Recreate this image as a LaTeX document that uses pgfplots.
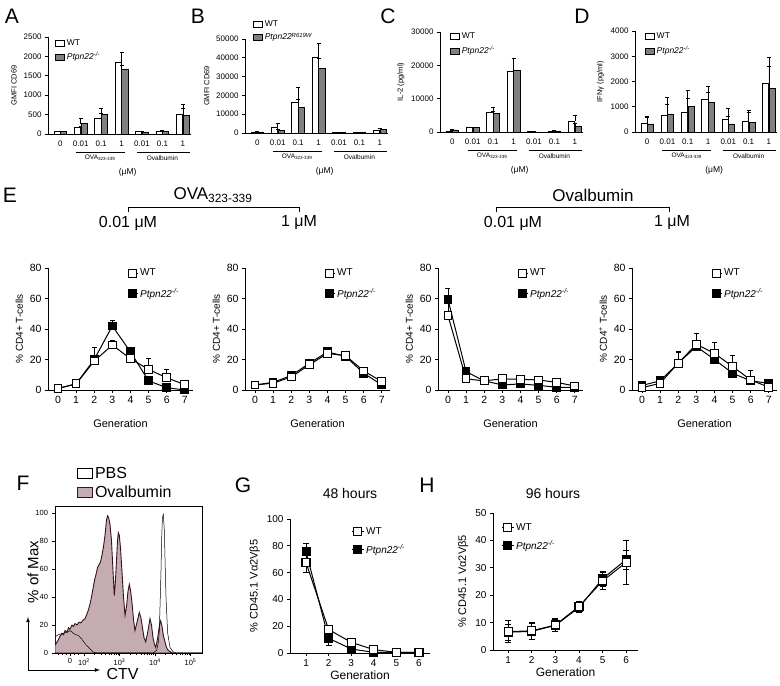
\documentclass[border=0pt]{standalone}
\usepackage{fontspec}
\setmainfont{Liberation Sans}
\usepackage{pgfplots}
\pgfplotsset{compat=1.18}
\definecolor{mutgray}{RGB}{128,128,128}
\definecolor{ovafill}{RGB}{196,172,177}
\definecolor{ovadraw}{RGB}{55,18,28}
\newcommand{\fs}[1]{\fontsize{#1}{#1}\selectfont}
\newcommand{\ptpn}{\textit{Ptpn22}\textsuperscript{\textit{-/-}}}
\newcommand{\grouplabels}{%
  \draw[line width=0.6pt] ([yshift=-18pt]axis cs:0.75,0) -- ([yshift=-18pt]axis cs:3.15,0);
  \draw[line width=0.6pt] ([yshift=-18pt]axis cs:3.75,0) -- ([yshift=-18pt]axis cs:6.35,0);
  \node[font=\fs{6.5}] at ([yshift=-24pt]axis cs:1.95,0) {OVA\textsubscript{323-339}};
  \node[font=\fs{6.5}] at ([yshift=-24pt]axis cs:5.0,0) {Ovalbumin};
  \node[font=\fs{8.5}] at ([yshift=-38pt]axis cs:3.3,0) {(μM)};
}
\pgfplotsset{
  prism/.style={scale only axis, anchor=south west, clip=false,
    axis x line*=bottom, axis y line*=left, axis line style={-, line width=0.7pt},
    /pgf/number format/assume math mode=true, /pgf/number format/1000 sep={},
    scaled y ticks=false, tick align=outside, major tick length=3pt,
    tick style={line width=0.7pt, black}, legend cell align=left},
  barax/.style={prism, width=143pt, xmin=-0.6, xmax=6.4, ymin=0,
    xtick={0,...,6}, xticklabels={0,0.01,0.1,1,0.01,0.1,1}, x tick style={draw=none},
    tick label style={font=\fs{8}},
    ylabel style={font=\fs{7.5}},
    legend style={draw=none, fill=none, inner sep=0pt, font=\fs{8.5}, anchor=north west, cells={anchor=west}},
    legend image code/.code={\draw[#1, line width=0.6pt] (0pt,-3pt) rectangle (9pt,3pt);}},
  wtbar/.style={ybar, bar width=0.3, bar shift=-0.16, fill=white, draw=black, line width=0.6pt,
    error bars/.cd, y dir=plus, y explicit, error bar style={line width=0.6pt},
    error mark options={rotate=90, mark size=2pt, line width=0.6pt}},
  mutbar/.style={ybar, bar width=0.3, bar shift=0.16, fill=mutgray, draw=black, line width=0.6pt,
    error bars/.cd, y dir=plus, y explicit, error bar style={line width=0.6pt},
    error mark options={rotate=90, mark size=2pt, line width=0.6pt}},
  eax/.style={prism, width=145pt, height=122pt, xmin=-0.55, xmax=7.45, ymin=0, ymax=80,
    xtick={0,...,7}, ytick={0,20,...,80}, tick label style={font=\fs{10.5}},
    xlabel={Generation}, xlabel style={font=\fs{11}, yshift=-9pt},
    ylabel style={font=\fs{10}},
    legend style={at={(0.545,1.01)}, anchor=north west, draw=none, fill=none, inner sep=0pt,
      row sep=7pt, font=\fs{10}, cells={anchor=west}},
    legend image code/.code={\draw[mark repeat=2,mark phase=2,#1] plot coordinates {(0pt,0pt) (5pt,0pt) (10pt,0pt)};},
    reverse legend},
  wtline/.style={black, line width=1pt, mark=square*, mark size=3.9pt, mark options={fill=white, solid},
    error bars/.cd, y dir=plus, y explicit, error bar style={line width=0.8pt},
    error mark options={rotate=90, mark size=2.5pt, line width=0.8pt}},
  mutline/.style={black, line width=1pt, mark=square*, mark size=3.9pt, mark options={fill=black, solid},
    error bars/.cd, y dir=plus, y explicit, error bar style={line width=0.8pt},
    error mark options={rotate=90, mark size=2.5pt, line width=0.8pt}},
  ghax/.style={prism, xtick={1,...,6}, tick label style={font=\fs{10}},
    xlabel={Generation}, xlabel style={font=\fs{12}, yshift=3pt},
    ylabel style={font=\fs{11}},
    legend style={anchor=north west, draw=none, fill=none, inner sep=0pt,
      row sep=5pt, font=\fs{10}, cells={anchor=west}},
    legend image code/.code={\draw[mark repeat=2,mark phase=2,#1] plot coordinates {(0pt,0pt) (6pt,0pt) (12pt,0pt)};},
    reverse legend},
  ghwt/.style={black, line width=1pt, mark=square*, mark size=4pt, mark options={fill=white, solid, line width=1.2pt},
    error bars/.cd, y dir=both, y explicit, error bar style={line width=0.9pt},
    error mark options={rotate=90, mark size=3pt, line width=0.9pt}},
  ghmut/.style={black, line width=1pt, mark=square*, mark size=4pt, mark options={fill=black, solid},
    error bars/.cd, y dir=both, y explicit, error bar style={line width=0.9pt},
    error mark options={rotate=90, mark size=3pt, line width=0.9pt}},
}
\begin{document}
\begin{tikzpicture}
\useasboundingbox (0pt,0pt) rectangle (780pt,686pt);

% ---------- panel letters ----------
\foreach \t/\x/\y in {A/12/670, B/198/670, C/388/670, D/582/670, E/10/491, F/23/203, G/243/201, H/427/201}
  \node[font=\fs{21}] at (\x pt,\y pt) {\t};

% ---------- A ----------
\begin{axis}[barax, at={(48pt,552pt)}, height=97pt, ymax=2500, ytick={0,500,...,2500},
  ylabel={GMFI CD69}, legend style={at={(0.05,1.0)}, row sep=2pt}]
\addplot[wtbar] coordinates {(0,60) +- (0,10) (1,160) +- (0,45) (2,395) +- (0,130) (3,1850) +- (0,260) (4,60) +- (0,10) (5,80) +- (0,10) (6,500) +- (0,175)};
\addplot[mutbar] coordinates {(0,60) +- (0,10) (1,270) +- (0,145) (2,505) +- (0,150) (3,1660) +- (0,120) (4,55) +- (0,10) (5,70) +- (0,10) (6,480) +- (0,290)};
\legend{WT, \ptpn}
\grouplabels
\end{axis}

% ---------- B ----------
\begin{axis}[barax, at={(245pt,553pt)}, height=94pt, ymax=50000, ytick={0,10000,...,50000},
  ylabel={GMFI CD69}, legend style={at={(0.056,1.22)}, row sep=1pt}]
\addplot[wtbar] coordinates {(0,200) +- (0,100) (1,3000) +- (0,2300) (2,16400) +- (0,7800) (3,40000) +- (0,7600) (4,500) +- (0,100) (5,300) +- (0,100) (6,1200) +- (0,400)};
\addplot[mutbar] coordinates {(0,600) +- (0,200) (1,1400) +- (0,700) (2,13800) +- (0,3900) (3,34500) +- (0,5300) (4,400) +- (0,100) (5,300) +- (0,100) (6,2000) +- (0,700)};
\legend{WT, \textit{Ptpn22}\textsuperscript{\textit{R619W}}}
\grouplabels
\end{axis}

% ---------- C ----------
\begin{axis}[barax, at={(440pt,554pt)}, height=100pt, ymax=30000, ytick={0,10000,20000,30000},
  ylabel={IL-2 (pg/ml)}, legend style={at={(0.07,1.02)}, row sep=3pt}]
\addplot[wtbar] coordinates {(0,300) +- (0,100) (1,1300) +- (0,200) (2,5800) +- (0,1500) (3,18100) +- (0,4000) (4,100) +- (0,50) (5,100) +- (0,50) (6,3300) +- (0,1700)};
\addplot[mutbar] coordinates {(0,600) +- (0,200) (1,1300) +- (0,200) (2,5500) +- (0,600) (3,18400) +- (0,3700) (4,0) +- (0,0) (5,300) +- (0,100) (6,1700) +- (0,1000)};
\legend{WT, \ptpn}
\grouplabels
\end{axis}

% ---------- D ----------
\begin{axis}[barax, at={(635pt,554pt)}, width=142pt, height=101pt, ymax=4000, ytick={0,1000,...,4000},
  ylabel={IFNγ (pg/ml)}, legend style={at={(0.07,1.01)}, row sep=3pt}]
\addplot[wtbar] coordinates {(0,330) +- (0,290) (1,650) +- (0,430) (2,790) +- (0,530) (3,1280) +- (0,540) (4,490) +- (0,430) (5,435) +- (0,420) (6,1940) +- (0,1030)};
\addplot[mutbar] coordinates {(0,320) +- (0,280) (1,690) +- (0,700) (2,1000) +- (0,650) (3,1190) +- (0,400) (4,320) +- (0,300) (5,380) +- (0,400) (6,1730) +- (0,880)};
\legend{WT, \ptpn}
\grouplabels
\end{axis}

% ---------- E headers ----------
\node[font=\fs{17}] at (213pt,491pt) {OVA\textsubscript{323-339}};
\draw[line width=0.7pt] (128pt,474pt) -- (128pt,479pt) -- (299pt,479pt) -- (299pt,474pt);
\node[font=\fs{16}] at (128pt,463pt) {0.01 μM};
\node[font=\fs{16}] at (299pt,463pt) {1 μM};
\node[font=\fs{17}] at (593pt,491pt) {Ovalbumin};
\draw[line width=0.7pt] (496pt,474pt) -- (496pt,479pt) -- (669pt,479pt) -- (669pt,474pt);
\node[font=\fs{16}] at (513pt,463pt) {0.01 μM};
\node[font=\fs{16}] at (672pt,463pt) {1 μM};

% ---------- E1 ----------
\begin{axis}[eax, at={(48pt,296pt)}, ylabel={\% CD4+ T-cells}]
\addplot[mutline] coordinates {(0,1) +- (0,0.5) (1,4) +- (0,1) (2,20) +- (0,8) (3,42) +- (0,3.5) (4,25) +- (0,1.5) (5,6) +- (0,1) (6,1.5) +- (0,1) (7,0) +- (0,0.5)};
\addplot[wtline] coordinates {(0,1) +- (0,0.5) (1,4) +- (0,1) (2,19) +- (0,2) (3,29.5) +- (0,3) (4,20.5) +- (0,2) (5,13.5) +- (0,7.5) (6,8) +- (0,5.5) (7,3.5) +- (0,1)};
\legend{\ptpn, WT}
\end{axis}

% ---------- E2 ----------
\begin{axis}[eax, at={(245pt,296pt)}, ylabel={\% CD4+ T-cells}]
\addplot[mutline] coordinates {(0,3.3) +- (0,1) (1,5) +- (0,1) (2,9.5) +- (0,1) (3,17.5) +- (0,1) (4,25) +- (0,1.5) (5,22) +- (0,1) (6,11) +- (0,1) (7,3.3) +- (0,1)};
\addplot[wtline] coordinates {(0,3.3) +- (0,1) (1,4.5) +- (0,1) (2,8.5) +- (0,1) (3,16.5) +- (0,1) (4,24) +- (0,1.5) (5,22.5) +- (0,1) (6,12.5) +- (0,1) (7,5.5) +- (0,1)};
\legend{\ptpn, WT}
\end{axis}

% ---------- E3 ----------
\begin{axis}[eax, at={(438pt,296pt)}, ylabel={\% CD4+ T-cells}]
\addplot[mutline] coordinates {(0,59.4) +- (0,7) (1,12) +- (0,1) (2,6) +- (0,1) (3,3.3) +- (0,1) (4,4) +- (0,1) (5,3) +- (0,1) (6,1.8) +- (0,1) (7,1.8) +- (0,1)};
\addplot[wtline] coordinates {(0,48.8) +- (0,13) (1,7.3) +- (0,1) (2,6) +- (0,1) (3,7.3) +- (0,1) (4,7) +- (0,1) (5,6.6) +- (0,1) (6,5) +- (0,1) (7,2.6) +- (0,1)};
\legend{\ptpn, WT}
\end{axis}

% ---------- E4 ----------
\begin{axis}[eax, at={(632pt,296pt)}, ylabel={\% CD4\textsuperscript{+} T-cells}]
\addplot[mutline] coordinates {(0,3) +- (0,1) (1,6) +- (0,1) (2,17.6) +- (0,7) (3,28.5) +- (0,8.5) (4,20) +- (0,3) (5,11) +- (0,2) (6,6) +- (0,2) (7,4.4) +- (0,1)};
\addplot[wtline] coordinates {(0,1.5) +- (0,1) (1,4.4) +- (0,1) (2,17.6) +- (0,8) (3,30) +- (0,7) (4,24) +- (0,7) (5,15.4) +- (0,7) (6,6.6) +- (0,6) (7,1.8) +- (0,1)};
\legend{\ptpn, WT}
\end{axis}

% ---------- F ----------
\begin{axis}[scale only axis, anchor=south west, at={(55pt,33pt)}, width=147pt, height=147pt,
  xmin=55, xmax=202, ymin=0, ymax=105, axis line style={line width=0.5pt},
  /pgf/number format/assume math mode=true,
  ytick={0,20,...,100}, xtick={70,84,119.5,155,190.5},
  xticklabels={0,10\textsuperscript{2},10\textsuperscript{3},10\textsuperscript{4},10\textsuperscript{5}},
  minor xtick={58,62,66,74,78,94.7,100.9,105.4,108.8,111.6,114,116.1,117.9,130.2,136.4,140.9,144.3,147.1,149.5,151.6,153.4,165.7,171.9,176.4,179.8,182.6,185,187.1,188.9},
  xtick pos=left, ytick pos=left, tick align=outside, major tick length=3.5pt, minor tick length=2pt,
  tick style={black, line width=0.5pt}, tick label style={font=\fs{7.5}},
  xticklabel style={yshift=1.5pt},
  legend style={at={(0.15,1.28)}, anchor=north west, draw=none, fill=none, inner sep=0pt,
    row sep=2pt, font=\fs{16}, cells={anchor=west}},
  legend image code/.code={\draw[#1, line width=0.8pt] (0pt,-5pt) rectangle (15pt,5pt);},
  reverse legend, legend cell align=left]
\addplot[fill=ovafill, draw=ovadraw, line width=0.9pt] coordinates {
 (55,20) (55.5,6) (58,9) (60,12) (62,14) (63.5,13) (65,16) (67,15) (68.5,18) (70,17) (72,20) (73.5,19) (75,21) (77,20) (79,22) (81,21.5) (83,23.5) (85,24.5) (87,28) (88.5,31) (90,35) (91.5,40) (93,46) (94.5,52) (96,56) (97.5,61) (99,63) (100.5,65) (102,70) (103.5,76) (105,84) (106.5,95) (107.5,98) (108.5,97) (110,92) (111.5,80) (112.5,66) (113.5,52) (114.3,41) (115.3,50) (116.5,66) (117.5,80) (118.3,86) (119.3,84) (120.5,75) (122,58) (123.5,40) (125,27) (126.5,33) (128,44) (129.3,49) (130.5,45) (132,36) (133.5,24) (135,16) (137,22) (139.3,29) (141,25) (142.5,18) (144,11) (145.7,8) (147.5,14) (150,24.5) (151.5,20) (153,11) (154.5,6) (155.7,4) (157.5,10) (159.5,20) (160.7,23) (162,19) (163.5,12) (165,8) (166.5,4) (168,2) (170,1) (173,0) (202,0)} \closedcycle;
\addplot[black, line width=0.5pt] coordinates {
 (55,11.4) (58,13) (63,14) (68,15) (70,16) (72,15) (73.3,14) (76,13) (78.3,12.6) (81.7,10) (85,6.7) (88.3,4.3) (93.3,0.7) (96.7,0) (153,0) (156.7,2) (158.5,8) (159.3,16) (160.3,40) (161,59) (161.8,85) (162.5,97) (163.3,99) (164.3,88) (165.2,62) (166,40) (167,24) (167.7,14) (170,4) (173.3,0.7) (176.7,0) (202,0)};
\legend{Ovalbumin, PBS}
\end{axis}
\draw[line width=0.8pt, -latex] (28pt,16pt) -- (28pt,69pt);
\draw[line width=0.8pt, -latex] (28pt,16pt) -- (100pt,16pt);
\node[font=\fs{15}, rotate=90] at (33pt,114pt) {\% of Max};
\node[font=\fs{16}, anchor=west] at (103pt,12pt) {CTV};

% ---------- G ----------
\node[font=\fs{14}] at (350pt,193pt) {48 hours};
\begin{axis}[ghax, at={(290pt,33pt)}, width=140pt, height=134pt, xmin=0.29, xmax=6.49,
  ymin=0, ymax=100, ytick={0,20,...,100}, ylabel={\% CD45.1 Vα2Vβ5},
  legend style={at={(0.436,0.955)}}]
\addplot[ghmut] coordinates {(1,75.5) +- (0,6.5) (2,11) +- (0,5) (3,3) +- (0,1) (4,0.5) +- (0,0.5) (5,0.5) +- (0,0.3) (6,0.5) +- (0,0.3)};
\addplot[ghwt] coordinates {(1,67.5) +- (0,7.5) (2,17.5) +- (0,2) (3,8) +- (0,1.5) (4,2.5) +- (0,1) (5,0.5) +- (0,0.5) (6,0.5) +- (0,0.3)};
\legend{\ptpn, WT}
\end{axis}

% ---------- H ----------
\node[font=\fs{14}] at (553pt,193pt) {96 hours};
\begin{axis}[ghax, at={(493pt,36pt)}, width=145pt, height=137pt, xmin=0.36, xmax=6.5,
  ymin=0, ymax=50, ytick={0,10,...,50}, ylabel={\% CD45.1 Vα2Vβ5},
  legend style={at={(0.055,0.94)}}]
\addplot[ghmut] coordinates {(1,6.5) +- (0,3) (2,6.8) +- (0,2.8) (3,9) +- (0,2.3) (4,15.5) +- (0,1.8) (5,26) +- (0,2.8) (6,33) +- (0,3.5)};
\addplot[ghwt] coordinates {(1,6.7) +- (0,4) (2,7) +- (0,3) (3,9.1) +- (0,2.5) (4,15.9) +- (0,2) (5,25.2) +- (0,3.2) (6,32) +- (0,8)};
\legend{\ptpn, WT}
\end{axis}
\end{tikzpicture}
\end{document}
